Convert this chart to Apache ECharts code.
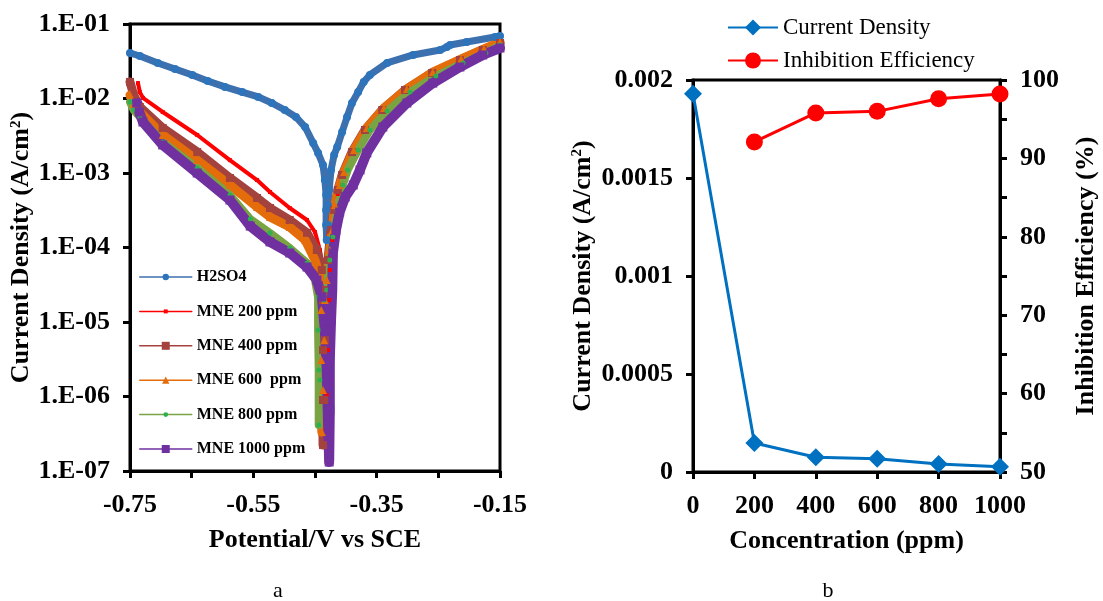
<!DOCTYPE html>
<html>
<head>
<meta charset="utf-8">
<script src="https://cdn.jsdelivr.net/npm/echarts@6/dist/echarts.min.js"></script>
<style>
  html, body { margin: 0; padding: 0; background: #fff; }
  #chart { width: 1103px; height: 601px; }
</style>
</head>
<body>
<div id="chart"></div>
<script>
const FONT = 'Liberation Serif';

// ---- Panel a: potentiodynamic polarization curves, [potential (V vs SCE), current density (A/cm²)]
const h2so4 = [
  [-0.750, 4.08e-2], [-0.734, 3.72e-2], [-0.705, 3.0e-2], [-0.677, 2.49e-2], [-0.649, 2.07e-2],
  [-0.624, 1.72e-2], [-0.596, 1.43e-2], [-0.568, 1.22e-2], [-0.542, 1.05e-2], [-0.520, 8.7e-3],
  [-0.499, 7.01e-3], [-0.481, 5.65e-3], [-0.466, 4.14e-3], [-0.453, 2.53e-3], [-0.445, 1.86e-3],
  [-0.437, 1.28e-3], [-0.434, 8.05e-4], [-0.432, 5.07e-4], [-0.432, 3.19e-4], [-0.432, 2.0e-4],
  [-0.431, 1.26e-4], [-0.429, 2.0e-4], [-0.429, 3.72e-4], [-0.427, 5.91e-4], [-0.424, 1.10e-3],
  [-0.419, 1.74e-3], [-0.414, 2.23e-3], [-0.406, 3.55e-3], [-0.398, 5.65e-3], [-0.390, 8.7e-3],
  [-0.380, 1.22e-2], [-0.371, 1.67e-2], [-0.361, 2.07e-2], [-0.333, 3.0e-2], [-0.291, 3.84e-2],
  [-0.247, 4.48e-2], [-0.236, 4.91e-2], [-0.231, 5.22e-2], [-0.204, 5.73e-2], [-0.158, 6.69e-2],
  [-0.150, 6.9e-2]
];
const mne200 = [
  [-0.737, 1.61e-2], [-0.734, 1.22e-2], [-0.729, 1.02e-2], [-0.697, 6.59e-3], [-0.641, 3.24e-3],
  [-0.588, 1.49e-3], [-0.544, 8.05e-4], [-0.523, 5.56e-4], [-0.491, 3.39e-4], [-0.463, 2.34e-4],
  [-0.450, 1.61e-4], [-0.442, 9.25e-5], [-0.437, 4.99e-5], [-0.434, 1.97e-5], [-0.432, 5.7e-6],
  [-0.431, 1.05e-6], [-0.429, 4.2e-6], [-0.427, 1.97e-5], [-0.426, 4.99e-5], [-0.422, 1.26e-4],
  [-0.418, 3.0e-4], [-0.413, 5.22e-4], [-0.405, 9.1e-4], [-0.390, 1.86e-3], [-0.369, 3.66e-3],
  [-0.341, 6.8e-3], [-0.304, 1.26e-2], [-0.260, 2.2e-2], [-0.215, 3.29e-2], [-0.178, 4.48e-2],
  [-0.150, 5.73e-2]
];
const mne400 = [
  [-0.750, 1.67e-2], [-0.744, 1.11e-2], [-0.734, 7.69e-3], [-0.697, 4.02e-3], [-0.641, 1.91e-3],
  [-0.588, 8.57e-4], [-0.544, 4.62e-4], [-0.523, 3.39e-4], [-0.491, 2.34e-4], [-0.463, 1.57e-4],
  [-0.447, 9.25e-5], [-0.439, 4.99e-5], [-0.437, 1.97e-5], [-0.437, 4.2e-6], [-0.437, 8.97e-7],
  [-0.437, 2.23e-7], [-0.435, 8.97e-7], [-0.434, 5.7e-6], [-0.432, 2.69e-5], [-0.429, 6.8e-5],
  [-0.424, 1.72e-4], [-0.419, 3.19e-4], [-0.413, 5.91e-4], [-0.406, 9.4e-4], [-0.390, 1.91e-3],
  [-0.369, 3.78e-3], [-0.341, 7.01e-3], [-0.304, 1.30e-2], [-0.260, 2.2e-2], [-0.215, 3.29e-2],
  [-0.178, 4.48e-2], [-0.150, 5.56e-2]
];
const mne600 = [
  [-0.750, 1.11e-2], [-0.744, 8.44e-3], [-0.734, 6.59e-3], [-0.697, 3.24e-3], [-0.641, 1.49e-3],
  [-0.588, 6.9e-4], [-0.544, 3.5e-4], [-0.523, 2.57e-4], [-0.491, 1.88e-4], [-0.466, 1.26e-4],
  [-0.450, 6.8e-5], [-0.442, 4.02e-5], [-0.440, 1.45e-5], [-0.440, 3.09e-6], [-0.439, 3.33e-7],
  [-0.437, 1.22e-6], [-0.435, 5.7e-6], [-0.434, 1.97e-5], [-0.431, 3.66e-5], [-0.426, 9.25e-5],
  [-0.422, 1.72e-4], [-0.418, 3.72e-4], [-0.410, 6.9e-4], [-0.403, 1.03e-3], [-0.387, 2.04e-3],
  [-0.366, 4.02e-3], [-0.338, 7.46e-3], [-0.301, 1.34e-2], [-0.259, 2.27e-2], [-0.213, 3.39e-2],
  [-0.176, 4.62e-2], [-0.150, 5.73e-2]
];
const mne800 = [
  [-0.750, 8.97e-3], [-0.744, 7.01e-3], [-0.734, 5.65e-3], [-0.697, 2.61e-3], [-0.641, 1.17e-3],
  [-0.588, 5.07e-4], [-0.555, 2.41e-4], [-0.523, 1.57e-4], [-0.491, 9.85e-5], [-0.463, 6.19e-5],
  [-0.450, 3.66e-5], [-0.445, 2.17e-5], [-0.445, 7.8e-6], [-0.444, 2.27e-6], [-0.444, 4.14e-7],
  [-0.442, 1.66e-6], [-0.440, 7.8e-6], [-0.435, 1.97e-5], [-0.431, 2.69e-5], [-0.426, 6.8e-5],
  [-0.421, 1.38e-4], [-0.414, 3.19e-4], [-0.405, 6.9e-4], [-0.397, 1.10e-3], [-0.380, 2.04e-3],
  [-0.361, 3.78e-3], [-0.333, 6.8e-3], [-0.296, 1.22e-2], [-0.254, 2.0e-2], [-0.210, 3.0e-2],
  [-0.173, 4.08e-2], [-0.150, 5.22e-2]
];
const mne1000 = [
  [-0.739, 8.7e-3], [-0.735, 6.59e-3], [-0.729, 4.84e-3], [-0.697, 2.38e-3], [-0.641, 1.0e-3],
  [-0.588, 4.34e-4], [-0.555, 1.94e-4], [-0.523, 1.19e-4], [-0.491, 8.44e-5], [-0.463, 5.47e-5],
  [-0.447, 3.66e-5], [-0.439, 2.17e-5], [-0.434, 7.8e-6], [-0.431, 2.27e-6], [-0.429, 4.84e-7],
  [-0.427, 1.32e-7], [-0.426, 6.59e-7], [-0.426, 3.09e-6], [-0.424, 1.06e-5], [-0.422, 2.69e-5],
  [-0.421, 8.44e-5], [-0.416, 1.72e-4], [-0.410, 3.0e-4], [-0.401, 4.76e-4], [-0.388, 6.9e-4],
  [-0.377, 1.10e-3], [-0.366, 1.86e-3], [-0.340, 4.14e-3], [-0.301, 8.7e-3], [-0.259, 1.61e-2],
  [-0.215, 2.65e-2], [-0.178, 3.84e-2], [-0.150, 4.76e-2]
];
const potentialTicks = [-0.75, -0.65, -0.55, -0.45, -0.35, -0.25, -0.15];
const potentialLabels = [-0.75, -0.55, -0.35, -0.15];

// ---- Panel b: corrosion current density and inhibition efficiency vs inhibitor concentration
const concentrations = [0, 200, 400, 600, 800, 1000];
const currentDensity = [1.93e-3, 1.48e-4, 7.5e-5, 6.8e-5, 4.1e-5, 2.7e-5];
const inhibitionEfficiency = [null, 92.1, 95.8, 96.0, 97.6, 98.2];

// Per-curve styling of panel a (dense measured points render as thick bands)
const curves = [
  { name: 'H2SO4',        data: h2so4,   line: '#3D70AE', mark: '#2E74BB', symbol: 'circle',   size: 8,  width: 7,  icon: 8 },
  { name: 'MNE 200 ppm',  data: mne200,  line: '#FF0000', mark: '#FF0000', symbol: 'rect',     size: 4,  width: 4,  icon: 5 },
  { name: 'MNE 400 ppm',  data: mne400,  line: '#A4423D', mark: '#A4423D', symbol: 'rect',     size: 8,  width: 9,  icon: 10 },
  { name: 'MNE 600  ppm', data: mne600,  line: '#E46C0A', mark: '#E46C0A', symbol: 'triangle', size: 8,  width: 9,  icon: 9 },
  { name: 'MNE 800 ppm',  data: mne800,  line: '#7AA443', mark: '#2DB04F', symbol: 'circle',   size: 5,  width: 8,  icon: 6 },
  { name: 'MNE 1000 ppm', data: mne1000, line: '#7030A0', mark: '#7030A0', symbol: 'rect',     size: 9,  width: 10, icon: 10 }
];

const axisLineStyle = { color: '#000', width: 3 };
const tickText = { fontFamily: FONT, fontWeight: 'bold', fontSize: 26, color: '#000' };
const nameText = {
  fontFamily: FONT, fontWeight: 'bold', fontSize: 26, color: '#000',
  rich: { sup: { fontFamily: FONT, fontWeight: 'bold', fontSize: 15, color: '#000', verticalAlign: 'top', lineHeight: 18 } }
};

function logLabel(v) {
  const e = Math.round(Math.log10(v));
  return '1.E' + (e < 0 ? '-' : '+') + String(Math.abs(e)).padStart(2, '0');
}

const panelALegends = curves.map((c, k) => ({
  left: 134,
  top: 272 + k * 34.4 - 8,
  orient: 'horizontal',
  selectedMode: false,
  itemWidth: 52,
  itemHeight: c.icon,
  lineStyle: { width: 1.5 },
  data: [{ name: c.name }],
  textStyle: { fontFamily: FONT, fontWeight: 'bold', fontSize: 16, lineHeight: 16, color: '#000' }
}));

const option = {
  animation: false,
  backgroundColor: '#fff',
  grid: [
    { left: 130, top: 24, width: 370, height: 447, show: true, borderColor: '#000', borderWidth: 3 },
    { left: 693, top: 80, width: 307, height: 392, show: true, borderColor: '#000', borderWidth: 3 }
  ],
  legend: [
    ...panelALegends,
    {
      left: 722, top: 11, orient: 'vertical', selectedMode: false,
      itemWidth: 50, itemHeight: 20, itemGap: 10,
      data: ['Current Density', 'Inhibition Efficiency'],
      textStyle: { fontFamily: FONT, fontSize: 23, lineHeight: 23, color: '#000' }
    }
  ],
  xAxis: [
    {
      type: 'value', gridIndex: 0, min: -0.75, max: -0.15,
      axisLine: { lineStyle: axisLineStyle },
      axisTick: { customValues: potentialTicks, length: 7, lineStyle: axisLineStyle },
      axisLabel: { customValues: potentialLabels, formatter: v => v.toFixed(2), margin: 21, ...tickText },
      splitLine: { show: false },
      name: 'Potential/V vs SCE', nameLocation: 'middle', nameGap: 56, nameTextStyle: nameText
    },
    {
      type: 'value', gridIndex: 1, min: 0, max: 1000, interval: 200,
      axisLine: { lineStyle: axisLineStyle },
      axisTick: { length: 7, lineStyle: axisLineStyle },
      axisLabel: { formatter: v => String(v), margin: 21, ...tickText },
      splitLine: { show: false },
      name: 'Concentration (ppm)', nameLocation: 'middle', nameGap: 56, nameTextStyle: nameText
    }
  ],
  yAxis: [
    {
      type: 'log', gridIndex: 0, logBase: 10, min: 1e-7, max: 1e-1,
      axisLine: { show: true, lineStyle: axisLineStyle },
      axisTick: { show: true, length: 7, lineStyle: axisLineStyle },
      axisLabel: { formatter: logLabel, margin: 20, ...tickText },
      splitLine: { show: false },
      name: 'Current Density (A/cm{sup|2})', nameLocation: 'middle', nameGap: 91, nameTextStyle: nameText
    },
    {
      type: 'value', gridIndex: 1, position: 'left', min: 0, max: 0.002, interval: 0.0005,
      axisLine: { show: true, lineStyle: axisLineStyle },
      axisTick: { show: true, length: 7, lineStyle: axisLineStyle },
      axisLabel: { formatter: v => (v === 0 ? '0' : String(+v.toFixed(4))), margin: 20, ...tickText },
      splitLine: { show: false },
      name: 'Current Density (A/cm{sup|2})', nameLocation: 'middle', nameGap: 97, nameTextStyle: nameText
    },
    {
      type: 'value', gridIndex: 1, position: 'right', min: 50, max: 100, interval: 5,
      axisLine: { show: true, lineStyle: axisLineStyle },
      axisTick: { show: true, length: 7, lineStyle: axisLineStyle },
      axisLabel: { formatter: v => (Math.round(v) % 10 === 0 ? String(Math.round(v)) : ''), margin: 20, ...tickText },
      splitLine: { show: false },
      name: 'Inhibition Efficiency (%)', nameLocation: 'middle', nameGap: 73, nameTextStyle: nameText
    }
  ],
  series: [
    ...curves.map(c => ({
      type: 'line', name: c.name, xAxisIndex: 0, yAxisIndex: 0,
      data: c.data,
      symbol: c.symbol, symbolSize: c.size, showSymbol: true,
      lineStyle: { color: c.line, width: c.width, cap: 'round', join: 'round' },
      itemStyle: { color: c.mark },
      emphasis: { disabled: true }
    })),
    {
      type: 'line', name: 'Current Density', xAxisIndex: 1, yAxisIndex: 1,
      data: concentrations.map((c, i) => [c, currentDensity[i]]),
      symbol: 'diamond', symbolSize: 18,
      lineStyle: { color: '#0070C0', width: 3 },
      itemStyle: { color: '#0070C0' },
      emphasis: { disabled: true }
    },
    {
      type: 'line', name: 'Inhibition Efficiency', xAxisIndex: 1, yAxisIndex: 2,
      data: concentrations.map((c, i) => [c, inhibitionEfficiency[i]]).filter(p => p[1] !== null),
      symbol: 'circle', symbolSize: 17,
      lineStyle: { color: '#FF0000', width: 3 },
      itemStyle: { color: '#FF0000' },
      emphasis: { disabled: true }
    }
  ],
  graphic: [
    { type: 'text', x: 278, y: 591, style: { text: 'a', fontFamily: FONT, fontSize: 22, fill: '#000', align: 'center', verticalAlign: 'middle' } },
    { type: 'text', x: 828, y: 591, style: { text: 'b', fontFamily: FONT, fontSize: 22, fill: '#000', align: 'center', verticalAlign: 'middle' } }
  ]
};

const chart = echarts.init(document.getElementById('chart'), null, { renderer: 'canvas' });
chart.setOption(option);
</script>
</body>
</html>
